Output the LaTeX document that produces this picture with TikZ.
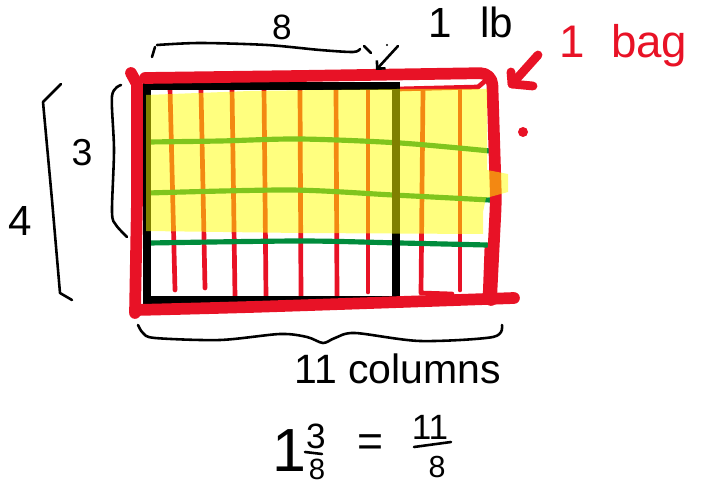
\documentclass[tikz,border=0pt]{standalone}
\usepackage{fontspec}
\setmainfont{Liberation Sans}
\usetikzlibrary{arrows.meta}
\definecolor{penred}{RGB}{232,18,38}
\definecolor{pengreen}{RGB}{0,140,60}
\definecolor{hilite}{RGB}{255,255,0}
\begin{document}
\begin{tikzpicture}[
  x=0.03cm, y=-0.03cm,
  ink/.style={draw=black, line width=2.2pt, line cap=round, line join=round},
  redframe/.style={draw=penred, line width=10pt, line cap=round, line join=round},
  cellline/.style={draw=penred, line width=4pt, line cap=round, line join=round},
  rowline/.style={draw=pengreen, line width=4.4pt, line cap=round},
  hand/.style={inner sep=0pt},
  arr/.style={-{Straight Barb[length=5pt,width=10pt]}}
]
\useasboundingbox (0,0) rectangle (703,486);
\draw[cellline] (170,88) -- (175,290);
\draw[cellline] (201,90) -- (205,288);
\draw[cellline] (232,88) -- (235,297);
\draw[cellline] (264,88) -- (266,297);
\draw[cellline] (300,90) -- (301,297);
\draw[cellline] (336,88) -- (337,297);
\draw[cellline] (368,90) -- (368,292);
\draw[cellline] (423,90) -- (421,293) -- (452,294);
\draw[cellline] (460,90) -- (460,290);
\draw[cellline] (487,245) -- (485,300);
\draw[cellline] (398,89) -- (478,87) -- (484,82);
\draw[rowline] plot[smooth] coordinates {(148,142) (220,141) (300,139) (400,143) (490,151)};
\draw[rowline] plot[smooth] coordinates {(148,193) (290,190) (393,195) (490,200)};
\draw[rowline] plot[smooth] coordinates {(150,243) (300,241) (400,243) (487,245)};
\draw[line width=6.5pt] (147,86) rectangle (396,300);
\draw[redframe] (131,73) -- (137,84) -- (137,200) -- (135,313);
\draw[redframe, rounded corners=10] (145,78) -- (300,76) -- (492,73) -- (496,200) -- (491,300);
\draw[redframe] plot[smooth] coordinates {(136,310) (250,307) (400,302) (514,298)};
\fill[hilite, fill opacity=0.5] (146,95) -- (250,91) -- (397,89) -- (487,89) -- (487,170) -- (508,174) -- (508,192) -- (486,198) -- (483,212) -- (483,234) -- (300,233) -- (146,231) -- cycle;
\node[hand, font=\fontsize{30}{36}\selectfont] (eight) at (282,27) {8};
\node[hand, font=\fontsize{36}{40}\selectfont] (pound) at (471,22) {1\hspace{0.4em} lb};
\node[hand, text=penred, font=\fontsize{39}{44}\selectfont, anchor=base west] (bag) at (559,58) {1\hspace{0.3em} bag};
\node[hand, font=\fontsize{32}{36}\selectfont] (three) at (82,153) {3};
\node[hand, font=\fontsize{36}{40}\selectfont] (four) at (20,221) {4};
\node[hand, font=\fontsize{35}{40}\selectfont, anchor=base west] (cols) at (294,383) {11 columns};
\node[hand, font=\fontsize{52}{60}\selectfont] (whole) at (289,451) {1};
\node[hand, font=\fontsize{30}{36}\selectfont] (numa) at (316,436) {3};
\node[hand, font=\fontsize{25}{30}\selectfont] (dena) at (317,469) {8};
\node[hand, font=\fontsize{38}{40}\selectfont] (equal) at (370,446) {=};
\node[hand, font=\fontsize{30}{36}\selectfont] (numb) at (430,427) {11};
\node[hand, font=\fontsize{26}{30}\selectfont] (denb) at (437,467) {8};
\draw[ink] (305,452) -- (322,454);
\draw[ink] (414,447) -- (451,442);
\draw[ink] (152,57) -- (155,47);
\draw[ink] plot[smooth] coordinates {(157,45) (200,43) (267,45) (320,50) (353,52) (360,49)};
\draw[ink] (364,46) -- (371,53);
\fill (387,45) circle (1.2);
\coordinate (lbtail) at (398,46);
\coordinate (lbtip) at (376,70);
\draw[ink, arr] (lbtail) -- (lbtip);
\draw[ink] plot[smooth] coordinates {(121,85) (112,96) (114,150) (112,212) (116,225) (127,237)};
\draw[ink] (61,84) -- (43,102) -- (52,200) -- (60,293) -- (72,300);
\draw[ink] plot[smooth] coordinates {(138,325) (143,333) (155,338) (220,340) (280,334) (307,337) (323,343) (335,338) (355,333) (420,341) (493,337) (502,325)};
\fill[penred] (523,132) circle (5);
\coordinate (bagtail) at (538,55);
\coordinate (bagtip) at (512,84);
\draw[redframe, line width=7.5pt] (bagtail) -- (bagtip);
\draw[redframe, line width=7.5pt] (511,72) -- (bagtip) -- (533,86);
\end{tikzpicture}
\end{document}
